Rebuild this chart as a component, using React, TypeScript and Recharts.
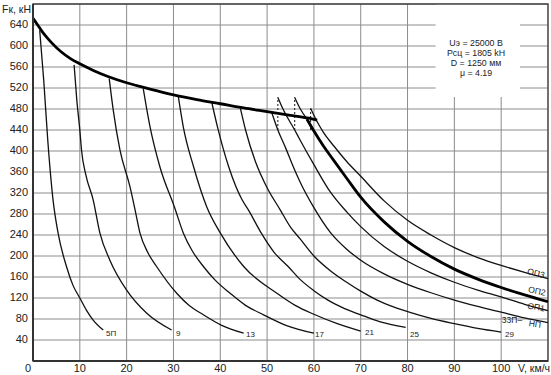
import { LineChart, Line, XAxis, YAxis, CartesianGrid, ReferenceArea } from 'recharts';

type Pair = [number, number];

// speed (km/h), tractive force (kN)
const envelope: Pair[] = [
  [0, 653], [1, 640], [2, 627], [3, 616], [4, 606], [6, 589], [8, 576], [10, 566], [13, 553],
  [16, 542], [20, 530], [25, 518], [30, 507], [35, 498], [40, 490], [45, 482], [50, 475],
  [55, 468], [58.5, 463], [60.7, 459],
];
const pos5: Pair[] = [
  [1.43, 630], [2.29, 535], [3.15, 421], [4.28, 307], [5.35, 244], [7.15, 180], [8.5, 145],
  [10, 120], [11.4, 97], [12.85, 78], [15, 59],
];
const pos9: Pair[] = [
  [8.78, 564], [9.36, 497], [10, 440], [10.36, 402], [11.3, 354], [12.85, 307], [14.28, 244],
  [16.42, 192], [20, 135], [24.3, 91], [29.6, 59],
];
const pos13: Pair[] = [
  [16.28, 538], [17.14, 478], [18.57, 402], [20.71, 332], [21.8, 288], [22.84, 244], [24.5, 207],
  [26.4, 180], [30.7, 129], [33.3, 106], [36.4, 88], [40.3, 68], [45, 53],
];
const pos17: Pair[] = [
  [23.55, 519], [25, 446], [27.1, 370], [30.3, 291], [32.1, 244], [34, 210], [36.4, 180],
  [38.8, 155], [42.1, 129], [45.4, 106], [49.25, 88], [54, 68], [60, 53],
];
const pos21: Pair[] = [
  [31.05, 503], [32.1, 446], [34.3, 370], [37.1, 294], [40, 244], [45, 180], [52.1, 129],
  [56, 106], [60, 89], [65, 71], [70, 57],
];
const pos25: Pair[] = [
  [38.2, 492], [39.4, 446], [41.8, 370], [44.6, 308], [46, 288], [48.8, 243], [51.5, 207],
  [54.5, 180], [57.1, 155], [60, 134], [63, 116], [66, 102], [70, 88], [74, 75], [79.6, 64],
];
const pos29: Pair[] = [
  [44.3, 481], [45.4, 440], [47.5, 380], [50, 330], [52.8, 288], [55, 255], [57.1, 232],
  [60, 200], [63.5, 172], [67, 150], [70, 133], [73.5, 116], [77, 103], [80.7, 92], [85, 81],
  [90, 71], [95, 62], [100, 55],
];
const pos33np: Pair[] = [
  [51, 473], [52.3, 440], [54, 405], [55.5, 372], [57.1, 340], [60, 292], [63.5, 245], [67, 213],
  [70, 192], [75, 166], [80, 146], [85, 130], [90, 116], [95, 104], [100, 93], [105, 82], [110, 73],
];
const op1: Pair[] = [
  [52.3, 502], [53.5, 478], [55.9, 440], [57.1, 420], [60, 374], [63.5, 322], [67, 284],
  [70, 256], [75, 218], [80, 190], [85, 168], [90, 150], [95, 135], [100, 122], [105, 108], [110, 96],
];
const op2Start: Pair[] = [[55.9, 502], [57.1, 480], [58.5, 461]];
const op2: Pair[] = [
  [58.5, 461], [60, 438], [62, 410], [64, 385], [67, 348], [70, 312], [75, 265], [80, 228],
  [85, 199], [90, 175], [95, 156], [100, 140], [105, 126], [110, 113],
];
const op3: Pair[] = [
  [59.3, 481], [60.5, 459], [62, 436], [64.3, 409], [67, 380], [70, 352], [75, 305], [80, 268],
  [85, 240], [90, 216], [95, 197], [100, 182], [105, 169], [110, 157],
];
const switch1: Pair[] = [[52.3, 440], [52.3, 502]];
const switch2: Pair[] = [[55.9, 440], [55.9, 502]];
const switch3: Pair[] = [[59.3, 440], [59.3, 481]];

const xTicks = [0, 10, 20, 30, 40, 50, 60, 70, 80, 90, 100];
const yTicks = [40, 80, 120, 160, 200, 240, 280, 320, 360, 400, 440, 480, 520, 560, 600, 640];
const params = ['Uэ = 25000 В', 'Рсц = 1805 kН', 'D = 1250 мм', 'μ = 4.19'];

const thin = [pos5, pos9, pos13, pos17, pos21, pos25, pos29, pos33np, op1, op2Start, op3];
const dashed = [switch1, switch2, switch3];

const toPts = (a: Pair[]) => a.map(([v, f]) => ({ v, f }));

const FONT = '"Liberation Sans", Arial, sans-serif';
const INK = '#222';

const XTick = (props: any) => {
  const { x, y, payload } = props;
  const dx = payload.value === 0 ? -5 : 0;
  return (
    <text x={x + dx} y={y + 11} textAnchor="middle" fontSize={11} fill={INK} fontFamily={FONT}>
      {payload.value}
    </text>
  );
};

const YTick = (props: any) => {
  const { x, y, payload } = props;
  return (
    <text x={x} y={y + 3} textAnchor="end" fontSize={11} fill={INK} fontFamily={FONT}>
      {payload.value}
    </text>
  );
};

export default function App() {
  return (
    <div style={{ position: 'absolute', left: 0, top: 0, width: 551, height: 375, background: '#fff' }}>
      <LineChart width={551} height={375} margin={{ top: 4, right: 3, bottom: 0, left: 0 }}>
        <CartesianGrid stroke="#8c8c8c" strokeWidth={1} />
        <XAxis
          type="number"
          dataKey="v"
          domain={[0, 110]}
          ticks={xTicks}
          interval={0}
          height={14}
          tickSize={0}
          tickMargin={0}
          tick={<XTick />}
          axisLine={{ stroke: '#333', strokeWidth: 2 }}
          allowDataOverflow
        />
        <YAxis
          type="number"
          dataKey="f"
          domain={[0, 680]}
          ticks={yTicks}
          interval={0}
          width={33}
          tickSize={0}
          tickMargin={5}
          tick={<YTick />}
          axisLine={{ stroke: '#333', strokeWidth: 2 }}
          allowDataOverflow
        />
        <ReferenceArea x1={86} x2={104} y1={503} y2={680} fill="#fff" fillOpacity={1} stroke="none" />
        <ReferenceArea x1={0} x2={110} y1={0} y2={680} fill="none" stroke="#444" strokeWidth={1.3} />
        {thin.map((s, i) => (
          <Line
            key={'t' + i}
            data={toPts(s)}
            dataKey="f"
            type="monotone"
            stroke="#111"
            strokeWidth={1.3}
            dot={false}
            isAnimationActive={false}
          />
        ))}
        {dashed.map((s, i) => (
          <Line
            key={'d' + i}
            data={toPts(s)}
            dataKey="f"
            type="linear"
            stroke="#111"
            strokeWidth={1}
            strokeDasharray="2 2"
            dot={false}
            isAnimationActive={false}
          />
        ))}
        <Line data={toPts(envelope)} dataKey="f" type="monotone" stroke="#000" strokeWidth={2.8} dot={false} isAnimationActive={false} />
        <Line data={toPts(op2)} dataKey="f" type="monotone" stroke="#000" strokeWidth={2.8} dot={false} isAnimationActive={false} />
      </LineChart>
      <svg
        width={551}
        height={375}
        style={{ position: 'absolute', left: 0, top: 0, pointerEvents: 'none' }}
        fontFamily={FONT}
        fill={INK}
      >
        <text x={2} y={13} fontSize={10.5}>Fк, кН</text>
        <text x={518} y={372} fontSize={10.5}>V, км/ч</text>
        {params.map((p, i) => (
          <text key={p} x={476} y={45.5 + i * 10.2} fontSize={8.8} textAnchor="middle">{p}</text>
        ))}
        <text x={106} y={336} fontSize={8}>5П</text>
        <text x={176} y={336} fontSize={8}>9</text>
        <text x={246} y={336.5} fontSize={8}>13</text>
        <text x={315} y={336.5} fontSize={8}>17</text>
        <text x={365} y={335} fontSize={8}>21</text>
        <text x={410} y={336.5} fontSize={8}>25</text>
        <text x={505} y={337} fontSize={8}>29</text>
        <text x={536} y={276} fontSize={8.5} textAnchor="middle" transform="rotate(14 536 273)">ОП3</text>
        <text x={537} y={294} fontSize={8.5} textAnchor="middle" transform="rotate(12 537 291)">ОП2</text>
        <text x={536} y={310} fontSize={8.5} textAnchor="middle" transform="rotate(10 536 307)">ОП1</text>
        <text x={512} y={323} fontSize={8.5} textAnchor="middle">33П–</text>
        <text x={535} y={327} fontSize={8.5} textAnchor="middle" transform="rotate(8 535 324)">НП</text>
      </svg>
    </div>
  );
}
